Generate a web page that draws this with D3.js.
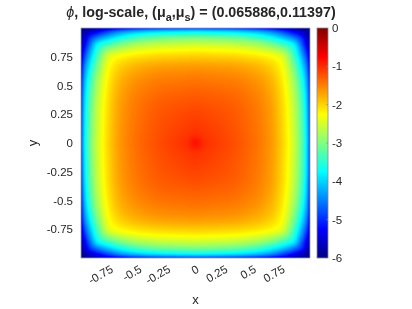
<!DOCTYPE html>
<html>
<head>
<meta charset="utf-8">
<script src="https://cdn.jsdelivr.net/npm/d3@7"></script>
<style>
  body { margin: 0; background: #fff; }
  #container { position: relative; width: 412px; height: 309px; }
  canvas, svg { position: absolute; left: 0; top: 0; }
  text { font-family: "Liberation Sans", Arial, Helvetica, sans-serif; fill: #262626; }
</style>
</head>
<body>
<div id="container"></div>
<script>
'use strict';
(function() {
    // sample positions (|x| or |y|) of the quadrant grid, field is symmetric
    var gridPos = [0, 0.08, 0.3, 0.5, 0.65, 0.75, 0.85, 0.92, 0.97, 1.0];
    // log10(phi), rows = |y|, columns = |x|
    var logPhi = [
        [-0.85, -1.02, -1.18, -1.38, -1.62, -1.95, -2.50, -3.10, -3.90, -4.90],
        [-1.02, -1.07, -1.20, -1.39, -1.63, -1.96, -2.51, -3.12, -3.92, -4.92],
        [-1.18, -1.20, -1.27, -1.43, -1.66, -1.99, -2.56, -3.20, -4.00, -5.00],
        [-1.38, -1.39, -1.43, -1.55, -1.76, -2.08, -2.70, -3.40, -4.20, -5.15],
        [-1.62, -1.63, -1.66, -1.76, -1.94, -2.22, -2.95, -3.75, -4.50, -5.35],
        [-1.95, -1.96, -1.99, -2.08, -2.22, -2.42, -3.25, -4.10, -4.85, -5.55],
        [-2.50, -2.51, -2.56, -2.70, -2.95, -3.25, -3.70, -4.55, -5.30, -5.75],
        [-3.10, -3.12, -3.20, -3.40, -3.75, -4.10, -4.55, -5.00, -5.60, -5.88],
        [-3.90, -3.92, -4.00, -4.20, -4.50, -4.85, -5.30, -5.60, -5.80, -5.96],
        [-4.90, -4.92, -5.00, -5.15, -5.35, -5.55, -5.75, -5.88, -5.96, -6.00]
    ];
    var xTicks = [-0.75, -0.5, -0.25, 0, 0.25, 0.5, 0.75];
    var yTicks = [-0.75, -0.5, -0.25, 0, 0.25, 0.5, 0.75];
    var cTicks = [0, -1, -2, -3, -4, -5, -6];
    var cRange = [-6, 0];

    var plot = {left: 81, right: 310, top: 28, bottom: 258};
    var cbar = {left: 317, right: 328};
    var W = 412, H = 309;

    var x = d3.scaleLinear().domain([-1, 1]).range([plot.left, plot.right]);
    var y = d3.scaleLinear().domain([-1, 1]).range([plot.bottom, plot.top]);
    var c = d3.scaleLinear().domain(cRange).range([plot.bottom, plot.top]);

    // MATLAB jet
    var jet = d3.scaleLinear()
        .domain([0, 0.125, 0.375, 0.625, 0.875, 1])
        .range(['#000080', '#0000ff', '#00ffff', '#ffff00', '#ff0000', '#800000'])
        .clamp(true);
    var toT = d3.scaleLinear().domain(cRange).range([0, 1]).clamp(true);

    // monotone cubic (Fritsch-Carlson) through the grid samples, flat at 0
    function slopes(ys) {
        var n = gridPos.length, d = [], m = [];
        for (var i = 0; i < n - 1; i++) d.push((ys[i + 1] - ys[i]) / (gridPos[i + 1] - gridPos[i]));
        m.push(0);
        for (var i = 1; i < n - 1; i++) m.push(d[i - 1] * d[i] <= 0 ? 0 : 2 / (1 / d[i - 1] + 1 / d[i]));
        m.push(d[n - 2]);
        return m;
    }
    function mono(ys, m, p) {
        var i = d3.bisectRight(gridPos, p) - 1;
        i = Math.max(0, Math.min(i, gridPos.length - 2));
        var h = gridPos[i + 1] - gridPos[i], t = (p - gridPos[i]) / h;
        var t2 = t * t, t3 = t2 * t;
        return (2 * t3 - 3 * t2 + 1) * ys[i] + (t3 - 2 * t2 + t) * h * m[i] +
            (-2 * t3 + 3 * t2) * ys[i + 1] + (t3 - t2) * h * m[i + 1];
    }
    var rowSlopes = logPhi.map(slopes);

    var container = d3.select('#container');
    var canvas = container.append('canvas').attr('width', W).attr('height', H);
    var ctx = canvas.node().getContext('2d');

    // heat map: per column, interpolate each row, then across rows
    var pw = plot.right - plot.left, ph = plot.bottom - plot.top;
    var img = ctx.createImageData(pw, ph);
    for (var px = plot.left; px < plot.right; px++) {
        var ax = Math.abs(x.invert(px + 0.5));
        var colVals = logPhi.map(function(row, j) { return mono(row, rowSlopes[j], ax); });
        var colSl = slopes(colVals);
        for (var py = plot.top; py < plot.bottom; py++) {
            var v = mono(colVals, colSl, Math.abs(y.invert(py + 0.5)));
            var col = d3.rgb(jet(toT(v)));
            var k = ((py - plot.top) * pw + (px - plot.left)) * 4;
            img.data[k] = col.r; img.data[k + 1] = col.g; img.data[k + 2] = col.b; img.data[k + 3] = 255;
        }
    }
    ctx.putImageData(img, plot.left, plot.top);

    // colorbar
    for (var cy = plot.top; cy < plot.bottom; cy++) {
        ctx.fillStyle = jet(toT(c.invert(cy + 0.5)));
        ctx.fillRect(cbar.left, cy, cbar.right - cbar.left, 1);
    }

    var svg = container.append('svg').attr('width', W).attr('height', H);

    svg.append('rect')
        .attr('x', plot.left).attr('y', plot.top)
        .attr('width', pw).attr('height', ph)
        .attr('fill', 'none').attr('stroke', '#9aa0b8').attr('stroke-width', 0.8);
    svg.append('rect')
        .attr('x', cbar.left).attr('y', plot.top)
        .attr('width', cbar.right - cbar.left).attr('height', ph)
        .attr('fill', 'none').attr('stroke', '#8a8a8a').attr('stroke-width', 0.8);

    // y axis labels
    svg.append('g').selectAll('text')
        .data(yTicks).enter().append('text')
        .attr('x', plot.left - 8)
        .attr('y', function(d) { return y(d); })
        .attr('dy', '0.35em')
        .attr('text-anchor', 'end')
        .attr('font-size', 11.5)
        .text(function(d) { return d; });

    // x axis labels, rotated
    svg.append('g').selectAll('text')
        .data(xTicks).enter().append('text')
        .attr('transform', function(d) { return 'translate(' + x(d) + ',' + (plot.bottom + 6) + ') rotate(-30)'; })
        .attr('dy', '0.75em')
        .attr('text-anchor', 'end')
        .attr('font-size', 11.5)
        .text(function(d) { return d; });

    // colorbar ticks + labels
    var cg = svg.append('g');
    cg.selectAll('line')
        .data(cTicks.slice(1, -1)).enter().append('line')
        .attr('x1', cbar.right - 2).attr('x2', cbar.right)
        .attr('y1', function(d) { return c(d); }).attr('y2', function(d) { return c(d); })
        .attr('stroke', '#8a8a8a').attr('stroke-width', 0.6);
    cg.selectAll('text')
        .data(cTicks).enter().append('text')
        .attr('x', cbar.right + 4)
        .attr('y', function(d) { return c(d); })
        .attr('dy', '0.35em')
        .attr('font-size', 11.5)
        .text(function(d) { return d; });

    svg.append('text')
        .attr('x', (plot.left + plot.right) / 2).attr('y', 304)
        .attr('text-anchor', 'middle').attr('font-size', 13)
        .text('x');
    svg.append('text')
        .attr('transform', 'translate(' + 37 + ',' + y(0) + ') rotate(-90)')
        .attr('text-anchor', 'middle').attr('font-size', 13)
        .text('y');

    // title
    var title = svg.append('text')
        .attr('x', 201).attr('y', 17)
        .attr('text-anchor', 'middle')
        .attr('font-size', 14.3)
        .attr('font-weight', 'bold')
        .attr('fill', '#000');
    title.append('tspan').attr('font-style', 'italic').attr('font-weight', 'normal').text('\u03D5');
    title.append('tspan').text(', log-scale, (\u03BC');
    title.append('tspan').attr('dy', 4).attr('font-size', 11).text('a');
    title.append('tspan').attr('dy', -4).text(',\u03BC');
    title.append('tspan').attr('dy', 4).attr('font-size', 11).text('s');
    title.append('tspan').attr('dy', -4).text(') = (0.065886,0.11397)');
})();
</script>
</body>
</html>
